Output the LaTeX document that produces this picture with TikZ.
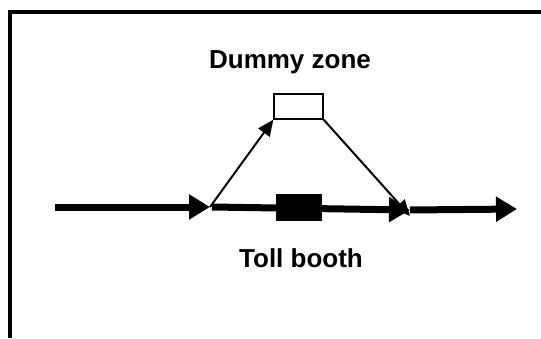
\documentclass[tikz,border=0pt]{standalone}
\usepackage{fontspec}
\setmainfont{Liberation Sans}
\usetikzlibrary{arrows.meta}

\begin{document}
\begin{tikzpicture}[x=1pt,y=-1pt,
		road/.style={line width=7pt,-{Triangle[length=21pt,width=24pt]}},
		ramp/.style={line width=2pt,-{Triangle[length=16pt,width=14pt]}},
		zonetext/.style={font=\fontsize{26}{30}\selectfont\bfseries,anchor=base,inner sep=0pt}]
				\useasboundingbox (0,0) rectangle (541,338);
				\draw[line width=4pt] (10,338) -- (10,12) -- (541,12); 	% frame
				\coordinate (in) at (55,207);
				\coordinate (split) at (210,207);
				\coordinate (merge) at (410,210);
				\coordinate (out) at (517,209);
				\node[draw,line width=1.4pt,minimum width=49pt,minimum height=25pt,inner sep=0pt] (dummy) at (298.5,106.5) {}; 	% dummy zone
				\node[zonetext] (dummylabel) at (290,68) {Dummy zone};
				\draw[road] (in) -- (split); 			% entry
				\draw[road] ([xshift=2pt]split) -- (merge); 	% through the booth
				\draw[road] (merge) -- (out); 		% exit
				\node[fill=black,minimum width=46pt,minimum height=27pt,inner sep=0pt] (booth) at (299,207.5) {}; 	% toll booth
				\node[zonetext] (boothlabel) at (301,267) {Toll booth};
				\draw[ramp] (split) -- (dummy.south west); 	% into dummy zone
				\draw[ramp] (dummy.south east) -- ([yshift=-6pt]merge); 	% back onto the road
			\end{tikzpicture}
\end{document}
